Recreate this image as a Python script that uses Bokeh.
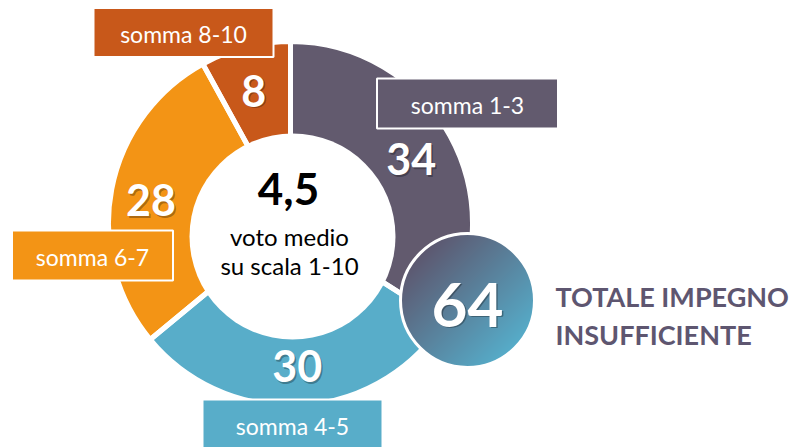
import numpy as np
from bokeh.plotting import figure
from bokeh.models import Range1d, ColumnDataSource
from bokeh.embed import file_html
from bokeh.resources import INLINE
from bokeh.core.properties import value

# ---------------- data ----------------
categories = ["somma 1-3", "somma 4-5", "somma 6-7", "somma 8-10"]
values = [34, 30, 28, 8]
colors = ["#625a6e", "#58adc9", "#f39415", "#c8581a"]
mean_vote = "4,5"
mean_caption = ["voto medio", "su scala 1-10"]
total_caption = ["TOTALE IMPEGNO", "INSUFFICIENTE"]
total_value = values[0] + values[1]   # 1-3 + 4-5

# ---------------- layout (reference pixel coords) ----------------
W, H = 794, 447
def X(px):
    return px
def Y(py):
    return H - py

# label boxes: (center x, center y, width, height) in reference pixels
box_layout = {
    "somma 1-3": (467, 103, 181, 50),
    "somma 4-5": (292, 424, 180, 50),
    "somma 6-7": (92, 255, 161, 50),
    "somma 8-10": (183, 32, 180, 49),
}

p = figure(width=W, height=H, x_range=Range1d(0, W), y_range=Range1d(0, H),
           output_backend="svg", toolbar_location=None,
           x_axis_location=None, y_axis_location=None, min_border=0)
p.grid.visible = False
p.outline_line_color = None
p.background_fill_color = "white"
p.border_fill_color = "white"

FONT = value("Lato")

# ---------------- donut ----------------
cx, cy = X(290), Y(223)
frac = np.array(values, dtype=float) / sum(values)
cum = np.concatenate([[0.0], np.cumsum(frac)])
start = np.pi / 2 - 2 * np.pi * cum[:-1]
end = np.pi / 2 - 2 * np.pi * cum[1:]
src = ColumnDataSource(dict(start=start, end=end, color=colors,
                            cat=categories, val=values))
p.annular_wedge(x=cx, y=cy, inner_radius=60, outer_radius=182,
                start_angle="start", end_angle="end", direction="clock",
                fill_color="color", line_color=None, source=src)
p.annular_wedge(x=cx, y=cy, inner_radius=60, outer_radius=182,
                start_angle="start", end_angle="end", direction="clock",
                fill_color=None, line_color="white", line_width=5, source=src)

# white center
p.circle(x=X(292), y=Y(236), radius=103, fill_color="white", line_color=None)

# slice values
mid = (cum[:-1] + cum[1:]) / 2
theta = np.pi / 2 - 2 * np.pi * mid
rl = 140
lx = cx + rl * np.cos(theta) - 2
ly = cy + rl * np.sin(theta) - 3
vals_txt = [str(v) for v in values]
p.text(x=lx + 1.5, y=ly - 1.5, text=vals_txt, text_font=FONT, text_font_style="bold",
       text_font_size="43px", text_color="black", text_alpha=0.3,
       text_align="center", text_baseline="middle")
p.text(x=lx, y=ly, text=vals_txt, text_font=FONT, text_font_style="bold",
       text_font_size="43px", text_color="white",
       text_align="center", text_baseline="middle")

# center texts
p.text(x=[X(288)], y=[Y(188)], text=[mean_vote], text_font=FONT, text_font_style="bold",
       text_font_size="44px", text_color="black", text_align="center", text_baseline="middle")
p.text(x=[X(289), X(289)], y=[Y(236), Y(265)], text=mean_caption, text_font=FONT,
       text_font_size="24px", text_color="black", text_align="center", text_baseline="middle")

# ---------------- total bubble (gradient) ----------------
bx, by, br = X(467), Y(300), 67
N = 268
yy, xx = np.mgrid[0:N, 0:N]
u = (xx + 0.5) / N * 2 - 1
v = (yy + 0.5) / N * 2 - 1
t = np.clip((u - v) / 2.8 + 0.5, 0, 1)
c0 = np.array([0x5d, 0x58, 0x70], dtype=float)
c1 = np.array([0x56, 0xad, 0xca], dtype=float)
img = np.zeros((N, N), dtype=np.uint32)
view = img.view(dtype=np.uint8).reshape((N, N, 4))
for k in range(3):
    view[:, :, k] = (c0[k] + (c1[k] - c0[k]) * t).astype(np.uint8)
view[:, :, 3] = np.where(u * u + v * v <= 1.0, 255, 0).astype(np.uint8)
p.image_rgba(image=[img], x=bx - br, y=by - br, dw=2 * br, dh=2 * br)
p.circle(x=bx, y=by, radius=br, fill_color=None, line_color="white", line_width=3)
p.text(x=[bx + 1.5], y=[Y(304) - 1.5], text=[str(total_value)], text_font=FONT,
       text_font_style="bold", text_font_size="62px", text_color="black", text_alpha=0.3,
       text_align="center", text_baseline="middle")
p.text(x=[bx], y=[Y(304)], text=[str(total_value)], text_font=FONT,
       text_font_style="bold", text_font_size="62px", text_color="white",
       text_align="center", text_baseline="middle")

p.text(x=[X(555), X(555)], y=[Y(296), Y(334)], text=total_caption, text_font=FONT,
       text_font_style="bold", text_font_size="27px", text_color="#5e5670",
       text_align="left", text_baseline="alphabetic")

# ---------------- label boxes ----------------
bxs = [X(box_layout[c][0]) for c in categories]
bys = [Y(box_layout[c][1]) for c in categories]
bws = [box_layout[c][2] for c in categories]
bhs = [box_layout[c][3] for c in categories]
p.rect(x=bxs, y=bys, width=bws, height=bhs, fill_color=colors,
       line_color="white", line_width=2)
p.text(x=bxs, y=[b - 1 for b in bys], text=categories, text_font=FONT,
       text_font_size="23px", text_color="white",
       text_align="center", text_baseline="middle")

open("out.html", "w").write(file_html(p, INLINE))
